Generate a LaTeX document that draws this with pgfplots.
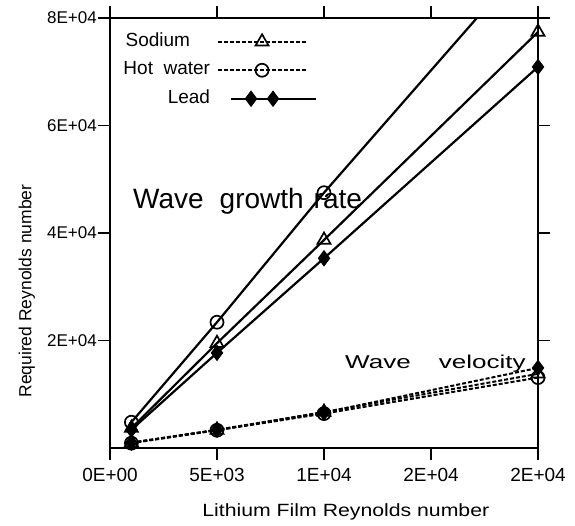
\documentclass[border=0pt]{standalone}
\usepackage{pgfplots}
\pgfplotsset{compat=1.18}
\usepackage{fontspec}
\setmainfont{Liberation Sans}
\usepackage{graphicx}
\pgfplotsset{
  leadlegend/.style={legend image code/.code={\draw[##1] (13pt,0pt) -- (98pt,0pt); \draw[##1, mark indices={2,3}] plot coordinates {(13pt,0pt) (33pt,0pt) (55pt,0pt)};}},
  mylegend/.style={legend image code/.code={\draw[mark repeat=2,mark phase=2,##1] plot coordinates {(0pt,0pt) (44pt,0pt) (88pt,0pt)};}},
}
\begin{document}
\begin{tikzpicture}
\begin{axis}[
  at={(0pt,0pt)}, anchor=south west,
  scale only axis, width=428pt, height=430pt,
  xmin=0, xmax=20000, ymin=0, ymax=80000,
  xtick={0,5000,10000,15000,20000},
  xticklabels={0E+00,5E+03,1E+04,2E+04,2E+04},
  ytick={20000,40000,60000,80000},
  yticklabels={2E+04,4E+04,6E+04,8E+04},
  tick align=outside,
  major tick length=12pt,
  axis line style={line width=2pt},
  major tick style={line width=1.6pt, black},
  xticklabel style={font=\fontsize{19}{22}\selectfont, inner sep=0pt, yshift=-8pt},
  yticklabel style={font=\fontsize{17}{20}\selectfont, inner sep=0pt, xshift=-1pt},
  scaled ticks=false,
  ylabel={\fontsize{17.5}{20}\selectfont Required Reynolds number},
  xlabel={\scalebox{1.2}[1]{\fontsize{17.7}{20}\selectfont Lithium Film Reynolds number}},
  ylabel style={at={(axis description cs:-0.194,0.365)}, anchor=center, rotate=0},
  xlabel style={at={(axis description cs:0.551,-0.149)}, anchor=center},
  legend plot pos=right,
  legend cell align=right,
  legend style={at={(axis description cs:0.031,0.965)}, anchor=north west,
    draw=none, fill=none, inner sep=0pt, column sep=7pt, row sep=11.5pt,
    nodes={inner sep=0pt, text height=13pt, text depth=4pt},
    font=\fontsize{19}{22}\selectfont},
  mylegend,
  every axis plot/.append style={black},
]
% Wave velocity (dashed)
\addplot[line width=2pt, dash pattern=on 4pt off 2pt, mark=triangle, mark size=7.5pt, mark options={solid, fill=white, line width=1.7pt}]
  coordinates {(1000,1000) (5000,3350) (10000,6700) (20000,13800)};
\addlegendentry{Sodium\rule{20pt}{0pt}}
\addplot[line width=2pt, dash pattern=on 4pt off 2pt, mark=o, mark size=6.5pt, mark options={solid, fill=white, line width=1.7pt}]
  coordinates {(1000,900) (5000,3300) (10000,6400) (20000,13100)};
\addlegendentry{Hot\ \ water}
% Wave growth rate (solid)
\addplot[line width=2.2pt, mark=diamond*, mark size=7.5pt, mark options={solid, line width=1pt}, leadlegend]
  coordinates {(1000,3400) (5000,17700) (10000,35300) (20000,70900)};
\addlegendentry{Lead}
\addplot[forget plot, line width=2.2pt, mark=triangle, mark size=7.5pt, mark options={solid, fill=white, line width=1.7pt}]
  coordinates {(1000,3700) (5000,19500) (10000,38700) (20000,77400)};
\addplot[forget plot, line width=2.2pt, mark=o, mark size=6.5pt, mark indices={1,2,3}, mark options={solid, fill=white, line width=1.7pt}]
  coordinates {(1000,4800) (5000,23400) (10000,47500) (20000,93000)};
\addplot[forget plot, line width=2pt, dash pattern=on 4pt off 2pt, mark=diamond*, mark size=7.5pt, mark options={solid, line width=1pt}]
  coordinates {(1000,1000) (5000,3400) (10000,6600) (20000,14900)};
\node[anchor=base west, inner sep=0pt, font=\fontsize{28}{30}\selectfont] at (axis cs:1075,44650) {Wave\hspace{16pt}growth\hspace{10pt}rate};
\node[anchor=base west, inner sep=0pt] at (axis cs:10981,14884) {\scalebox{1.4}[1]{\fontsize{18.6}{20}\selectfont Wave\hspace{20pt}velocity}};
\end{axis}
\pgfresetboundingbox
\path (-110pt,-77pt) rectangle (465pt,448pt);
\end{tikzpicture}
\end{document}
